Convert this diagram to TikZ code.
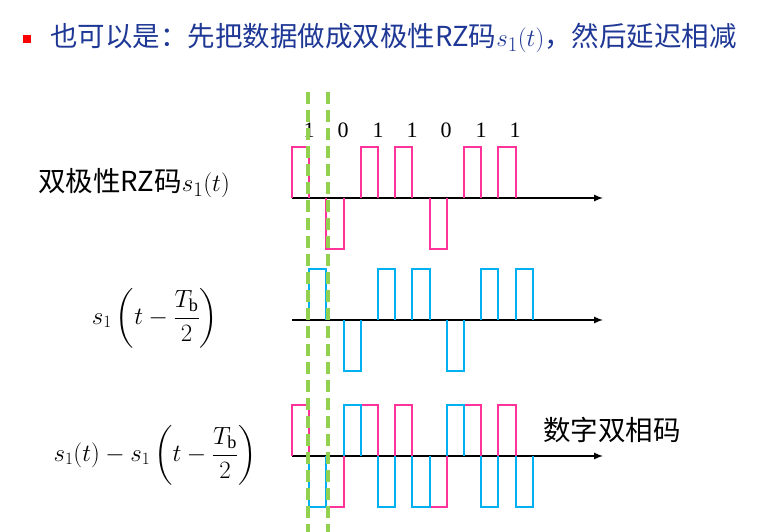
\documentclass[tikz,border=0pt]{standalone}
\usepackage{fontspec}
\usepackage{amsmath}
\setmainfont{Liberation Serif}
\newfontfamily\cjk{Noto Sans CJK SC}
\definecolor{pk}{RGB}{255,51,153}
\definecolor{bl}{RGB}{0,176,240}
\definecolor{gr}{RGB}{146,208,80}
\definecolor{tb}{RGB}{31,56,150}
\begin{document}
\begin{tikzpicture}[x=1pt,y=-1pt,
  ax/.style={black,line width=2pt,-latex},
  wp/.style={pk,line width=2pt},
  wb/.style={bl,line width=2pt},
  gl/.style={gr,line width=3.5pt,dash pattern=on 12pt off 6pt},
  lab/.style={anchor=west,font=\cjk\fontsize{27.5}{30}\selectfont,inner sep=0pt},
  bit/.style={font=\fontsize{22}{24}\selectfont,inner sep=0pt}]
\useasboundingbox (0,0) rectangle (760,532);
\fill[red] (23,35) rectangle (31,43);
\node[lab,tb] (title) at (50,38) {也可以是：先把数据做成双极性RZ码$s_1(t)$，然后延迟相减};
\node[lab] (l1) at (38,183) {双极性RZ码$s_1(t)$};
\node[inner sep=0pt,font=\fontsize{26}{30}\selectfont] (l2) at (155,318) {$s_1\left(t-\dfrac{T_\mathrm{b}}{2}\right)$};
\node[inner sep=0pt,font=\fontsize{26}{30}\selectfont] (l3) at (155,455) {$s_1(t)-s_1\left(t-\dfrac{T_\mathrm{b}}{2}\right)$};
\node[lab] (l4) at (543,430) {数字双相码};
\foreach \b/\x [count=\i] in {1/301,0/335,1/370,1/404,0/438,1/473,1/507}
  \node[bit] (b\i) at (\x+8,130) {\b};
\coordinate (a1s) at (292,198); \coordinate (a1e) at (603,198);
\coordinate (a2s) at (292,320); \coordinate (a2e) at (603,320);
\coordinate (a3s) at (292,456); \coordinate (a3e) at (603,456);
\draw[ax] (a1s)--(a1e); \draw[ax] (a2s)--(a2e); \draw[ax] (a3s)--(a3e);
\def\w{17.2}
\foreach \x/\s in {292/1,326.4/-1,360.8/1,395.2/1,429.6/-1,464/1,498.4/1}
  \draw[wp] (\x,198) -- (\x,198-51*\s) -- (\x+\w,198-51*\s) -- (\x+\w,198);
\foreach \x/\s in {309.2/1,343.6/-1,378/1,412.4/1,446.8/-1,481.2/1,515.6/1}
  \draw[wb] (\x,320) -- (\x,320-51*\s) -- (\x+\w,320-51*\s) -- (\x+\w,320);
\foreach \x/\s in {292/1,326.4/-1,360.8/1,395.2/1,429.6/-1,464/1,498.4/1}
  \draw[wp] (\x,456) -- (\x,456-51*\s) -- (\x+\w,456-51*\s) -- (\x+\w,456);
\foreach \x/\s in {309.2/-1,343.6/1,378/-1,412.4/-1,446.8/1,481.2/-1,515.6/-1}
  \draw[wb] (\x,456) -- (\x,456-51*\s) -- (\x+\w,456-51*\s) -- (\x+\w,456);
\draw[gl] (308,92) -- (308,532);
\draw[gl] (328,92) -- (328,532);
\end{tikzpicture}
\end{document}
